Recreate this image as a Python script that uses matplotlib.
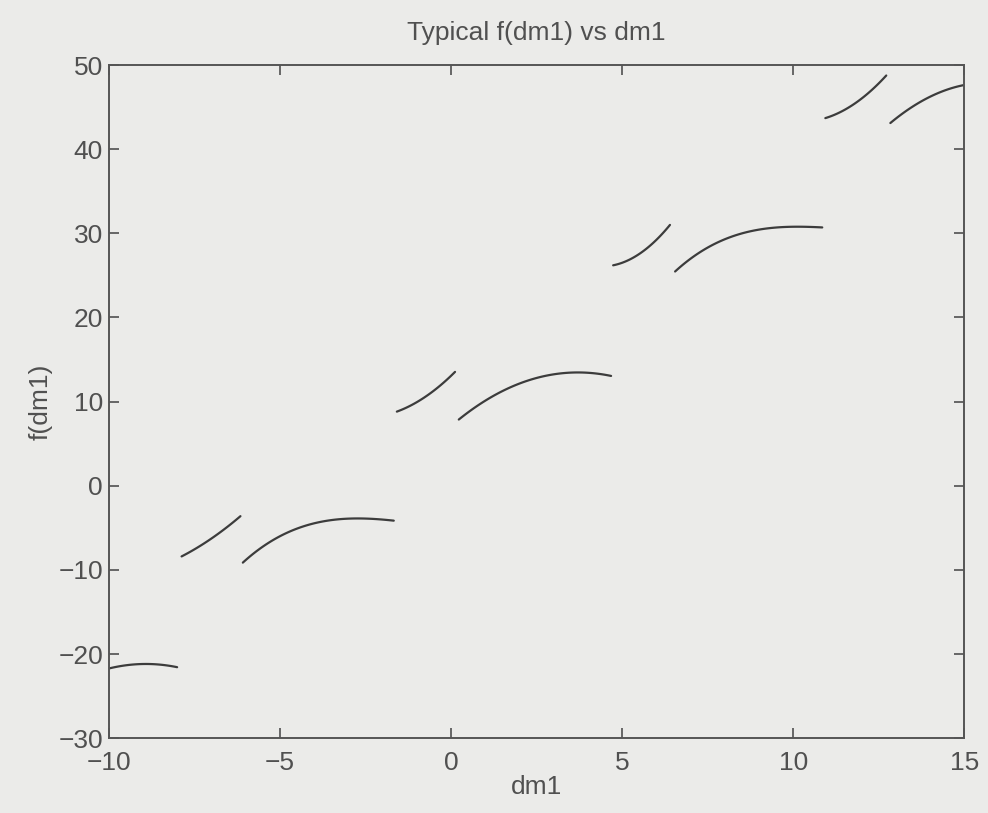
import numpy as np
import matplotlib
matplotlib.use("Agg")
import matplotlib.pyplot as plt
from numpy.polynomial import polynomial as P

# Branches of f(dm1) sampled along dm1 (each branch drawn as its own line)
seg_x = [
    [-10.0, -9.1, -8.6, -8.0],
    [-7.87, -7.57, -6.96, -6.32, -6.15],
    [-6.08, -5.58, -4.8, -3.83, -2.87, -2.08, -1.67],
    [-1.58, -1.2, -0.61, 0.12],
    [0.23, 0.85, 1.64, 2.31, 3.27, 4.15, 4.68],
    [4.74, 5.23, 6.40],
    [6.55, 7.19, 7.87, 8.74, 9.71, 10.44, 10.85],
    [10.94, 11.17, 11.67, 12.16, 12.72],
    [12.84, 13.42, 14.0, 14.5, 14.97],
]
seg_y = [
    [-21.7, -21.3, -21.1, -21.6],
    [-8.3, -7.9, -6.1, -4.1, -3.7],
    [-9.2, -7.4, -5.5, -4.5, -3.9, -3.75, -4.3],
    [8.9, 9.3, 11.1, 13.5],
    [7.9, 9.6, 11.7, 12.5, 13.3, 13.5, 13.0],
    [26.2, 26.9, 31.0],
    [25.4, 27.6, 29.2, 30.0, 30.7, 31.1, 30.5],
    [43.8, 43.9, 45.0, 46.7, 48.7],
    [43.1, 44.9, 46.2, 47.1, 47.6],
]
x_ticks = [-10, -5, 0, 5, 10, 15]
y_ticks = [-30, -20, -10, 0, 10, 20, 30, 40, 50]

plt.rcParams['font.family'] = ['Liberation Sans', 'DejaVu Sans']
bg = '#ebebe9'
ink = '#505050'

fig = plt.figure(figsize=(9.88, 8.13), dpi=100, facecolor=bg)
ax = fig.add_axes([0.110, 0.092, 0.866, 0.828], facecolor=bg)

for xs, ys in zip(seg_x, seg_y):
    # smooth each branch with a low-order fit through the samples
    xs = np.asarray(xs)
    ys = np.asarray(ys)
    t = np.linspace(xs[0], xs[-1], 80)
    deg = 3 if len(xs) >= 6 else 2
    c = P.polyfit(xs, ys, deg)
    ax.plot(t, P.polyval(t, c), color='#3c3c3c', lw=1.6, solid_capstyle='round')

ax.set_xlim(-10, 15)
ax.set_ylim(-30, 50)
ax.set_xticks(x_ticks)
ax.set_yticks(y_ticks)
ax.set_xticklabels([str(v).replace('-', '\u2212') for v in x_ticks])
ax.set_yticklabels([str(v).replace('-', '\u2212') for v in y_ticks])

ax.tick_params(direction='in', length=7, width=1.2, colors=ink,
               top=True, right=True, labelsize=19)
ax.tick_params(axis='y', pad=4)
ax.tick_params(axis='x', pad=9)
for s in ax.spines.values():
    s.set_color('#555555')
    s.set_linewidth(1.4)

ax.set_title('Typical f(dm1) vs dm1', fontsize=19, color=ink, pad=18)
ax.set_xlabel('dm1', fontsize=19, color=ink, labelpad=0)
ax.set_ylabel('f(dm1)', fontsize=19, color=ink, labelpad=4)

fig.savefig('out.png', dpi=100, facecolor=bg)
